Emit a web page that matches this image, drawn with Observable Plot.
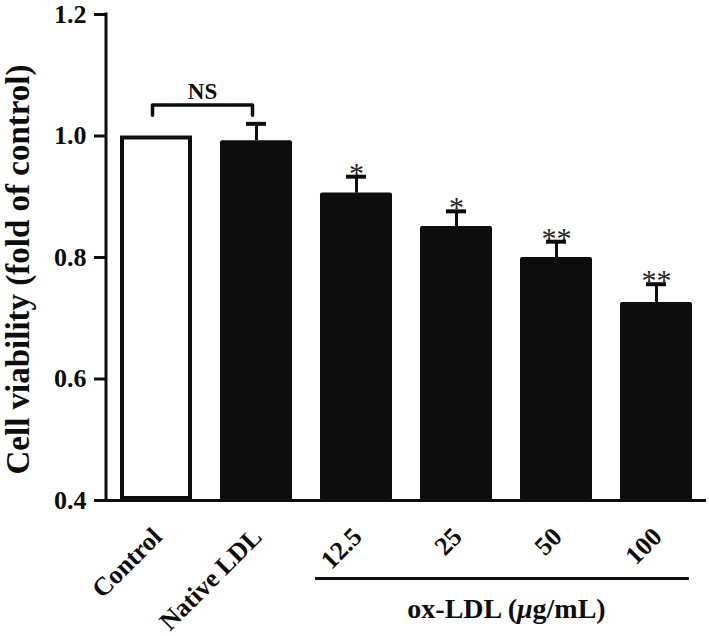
<!DOCTYPE html>
<html>
<head>
<meta charset="utf-8">
<script src="https://cdn.jsdelivr.net/npm/d3@7"></script>
<script src="https://cdn.jsdelivr.net/npm/@observablehq/plot@0.6"></script>
<style>
  html, body { margin: 0; padding: 0; background: #fff; }
</style>
</head>
<body>
<div id="chart"></div>
<script>
const categories = ["Control", "Native LDL", "12.5", "25", "50", "100"];
const viability = [1.0, 0.992, 0.906, 0.851, 0.800, 0.726];
const sem = [0, 0.028, 0.027, 0.025, 0.026, 0.030];
const significance = ["", "", "*", "*", "**", "**"];
const yTicks = [0.4, 0.6, 0.8, 1.0, 1.2];
const groupLabel = "ox-LDL (μg/mL)";
const yLabel = "Cell viability (fold of control)";

const data = categories.map((c, i) => ({cat: c, v: viability[i], e: sem[i], sig: significance[i]}));
const filled = data.filter(d => d.cat !== "Control");
const control = data.filter(d => d.cat === "Control");
const withErr = data.filter(d => d.e > 0);

const ink = "#0d0d0d";
const font = "Liberation Serif";

// y-axis line drawn through the library's y scale
function yAxisLine(index, scales, values, dimensions) {
  const ns = "http://www.w3.org/2000/svg";
  const g = document.createElementNS(ns, "g");
  const l = document.createElementNS(ns, "line");
  const x = dimensions.marginLeft;
  l.setAttribute("x1", x);
  l.setAttribute("x2", x);
  l.setAttribute("y1", scales.y(yTicks[0]) + 1.5);
  l.setAttribute("y2", scales.y(yTicks[yTicks.length - 1]) - 1.5);
  l.setAttribute("stroke", ink);
  l.setAttribute("stroke-width", 3);
  g.appendChild(l);
  return g;
}

const chart = Plot.plot({
  width: 709,
  height: 636,
  marginTop: 14,
  marginBottom: 136,
  marginLeft: 106,
  marginRight: 3,
  style: {fontFamily: font, background: "#fff", color: ink, overflow: "visible"},
  x: {domain: categories, paddingInner: 0.28, paddingOuter: 0.14, axis: null},
  y: {domain: [0.4, 1.2], axis: null},
  marks: [
    Plot.barY(filled, {x: "cat", y1: 0.4, y2: "v", fill: ink, rx: 2}),
    Plot.barY(control, {x: "cat", y1: 0.4, y2: "v", fill: "#fff", stroke: ink, strokeWidth: 4, inset: 2}),
    Plot.ruleX(withErr, {x: "cat", y1: "v", y2: d => d.v + d.e, stroke: ink, strokeWidth: 3}),
    Plot.tickY(withErr, {x: "cat", y: d => d.v + d.e, stroke: ink, strokeWidth: 4, insetLeft: 26, insetRight: 26}),
    Plot.text(withErr, {x: "cat", y: d => d.v + d.e, text: "sig", dy: 6, lineAnchor: "bottom",
      fontSize: 30, fontWeight: "normal", fill: "#222"}),
    // NS bracket
    Plot.line([{x: "Control", y: 1.034}, {x: "Control", y: 1.051}, {x: "Native LDL", y: 1.051}, {x: "Native LDL", y: 1.034}],
      {x: "x", y: "y", stroke: ink, strokeWidth: 3.5, dx: -4, strokeLinejoin: "round", strokeLinecap: "round"}),
    Plot.text(["NS"], {x: () => "Control", y: () => 1.051, text: d => d, dx: 46, dy: -6, lineAnchor: "bottom",
      fontSize: 23, fontWeight: "bold"}),
    // axes
    Plot.axisY({ticks: yTicks, tickFormat: d3.format(".1f"), tickSize: 12, tickPadding: 8, fontSize: 26,
      fontWeight: "bold", strokeWidth: 3, label: null}),
    yAxisLine,
    Plot.ruleY([0.4], {stroke: ink, strokeWidth: 3}),
    Plot.text(categories, {x: d => d, y: () => 0.4, text: d => d, rotate: -45, textAnchor: "end", lineAnchor: "middle",
      dx: 1, dy: 32, fontSize: 26, fontWeight: "bold"}),
    Plot.ruleY([0.4], {x1: () => "12.5", x2: () => "100", dy: 78, stroke: ink, strokeWidth: 3, insetLeft: -5, insetRight: 3}),
    Plot.text([groupLabel], {x: () => "25", y: () => 0.4, text: d => d, dx: 50, dy: 109, lineAnchor: "middle",
      fontSize: 28, fontWeight: "bold"}),
    Plot.text([yLabel], {frameAnchor: "left", text: d => d, rotate: -90, textAnchor: "middle", dx: -88, dy: 12,
      lineAnchor: "middle", fontSize: 33, fontWeight: "bold"})
  ]
});

chart.querySelectorAll("text").forEach(t => {
  if (t.textContent === groupLabel) {
    t.innerHTML = 'ox-LDL (<tspan font-style="italic">μ</tspan>g/mL)';
  }
});

document.getElementById("chart").appendChild(chart);
</script>
</body>
</html>
